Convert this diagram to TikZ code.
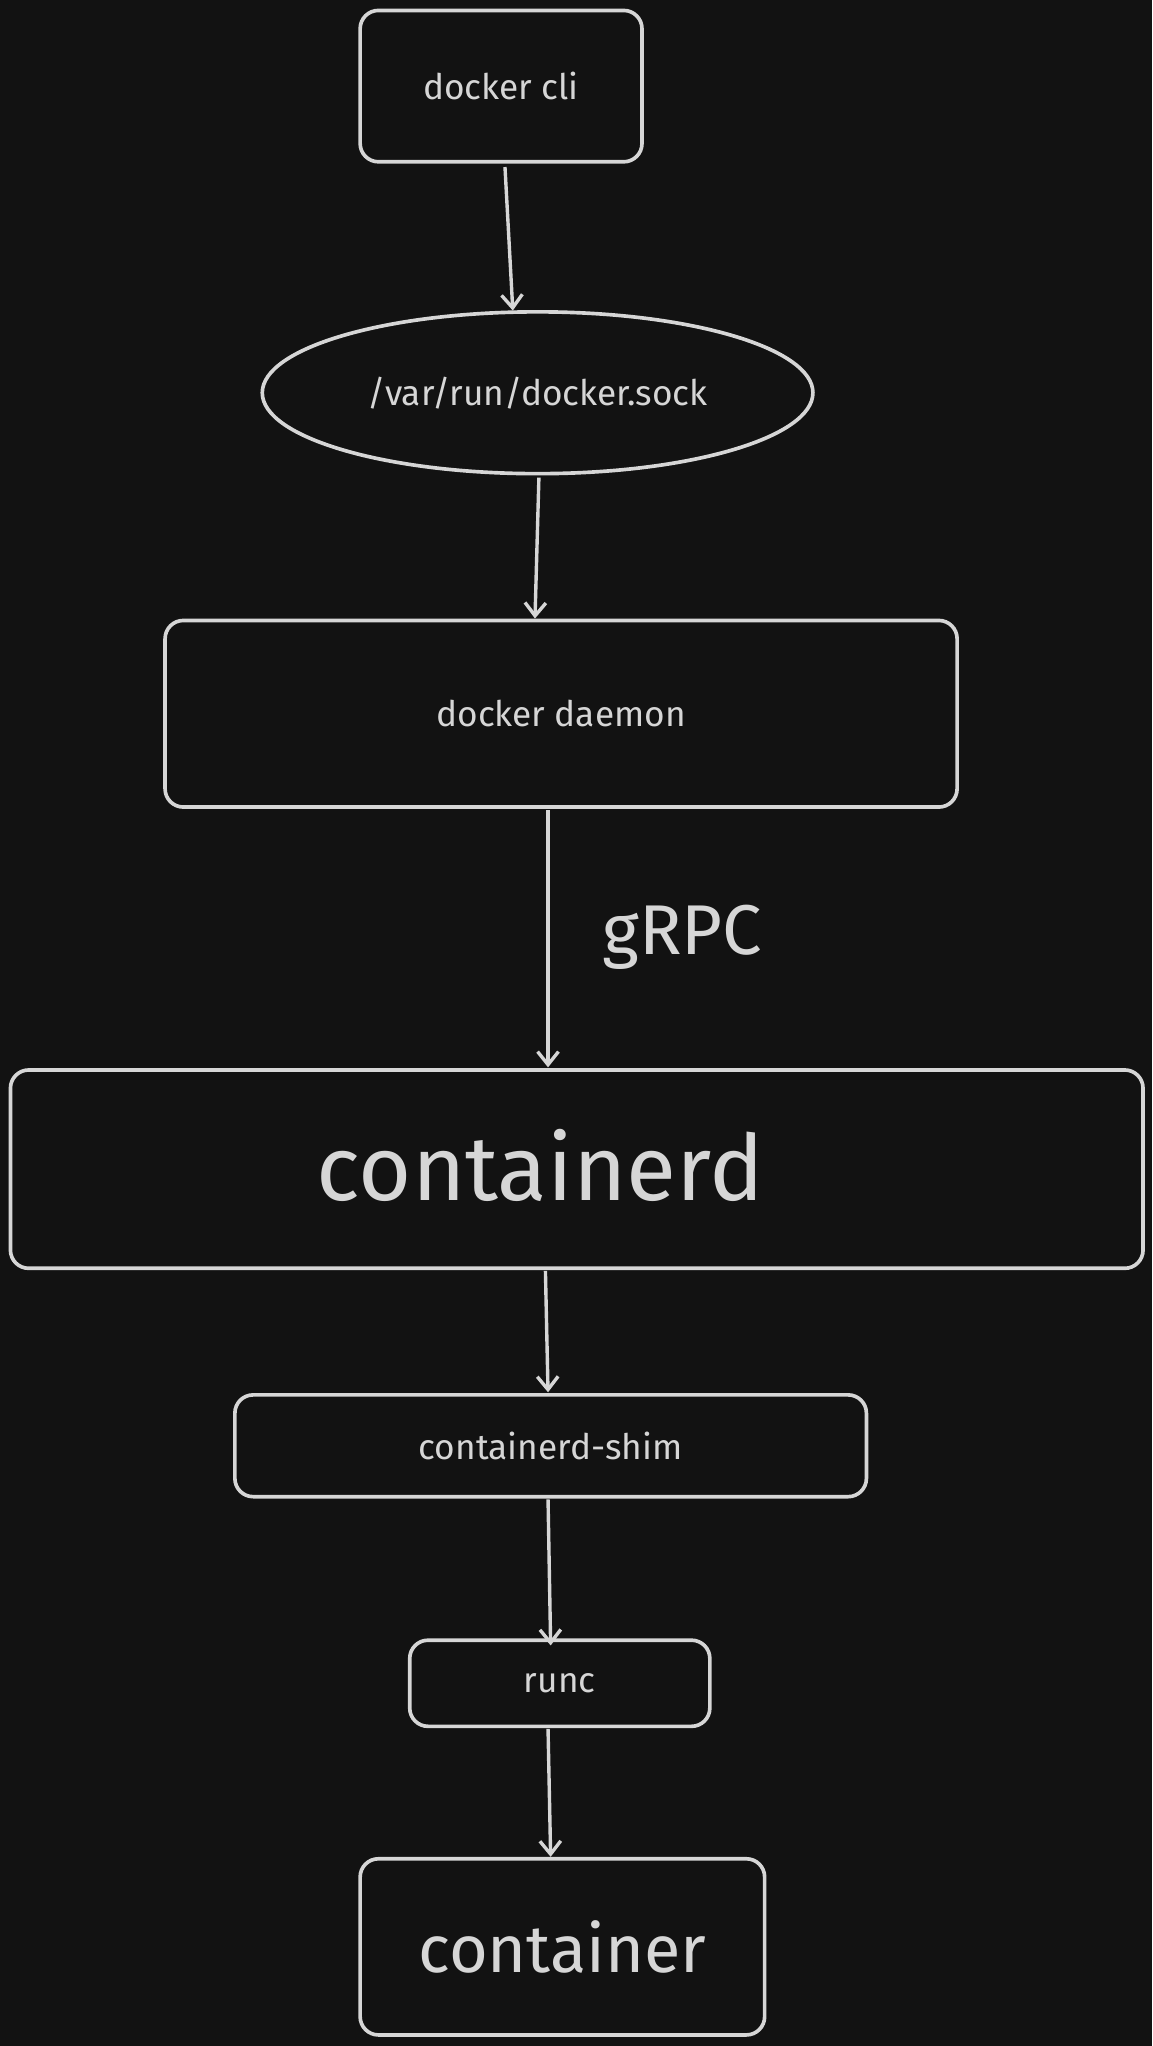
\documentclass[tikz,border=0pt]{standalone}
\usepackage{fontspec}
\setmainfont{Fira Sans}
\usetikzlibrary{shapes.geometric,arrows.meta}
\definecolor{bg}{HTML}{121212}
\definecolor{fg}{HTML}{D6D6D6}
\begin{document}
\begin{tikzpicture}[x=1pt,y=-1pt,
  box/.style={draw=fg,line width=2.8pt,rounded corners=14pt,text=fg,inner sep=0pt},
  arr/.style={draw=fg,line width=2.6pt,-{Straight Barb[length=10pt,width=16pt]}},
  lbl/.style={font=\fontsize{27}{31}\selectfont}]
\fill[bg] (0,0) rectangle (883,1568);
\useasboundingbox (0,0) rectangle (883,1568);
\node[box,minimum width=216pt,minimum height=116pt,lbl] (cli) at (384,66) {docker cli};
\node[box,ellipse,minimum width=422pt,minimum height=124pt,lbl] (sock) at (412,301) {/var/run/docker.sock};
\node[box,minimum width=607pt,minimum height=143pt,lbl] (daemon) at (430,547) {docker daemon};
\node[text=fg,font=\fontsize{54}{60}\selectfont] (grpc) at (523,718) {gRPC};
\node[box,minimum width=868pt,minimum height=152pt] (cd) at (442,896) {};
\node[text=fg,font=\fontsize{70}{78}\selectfont] (cdt) at (414,893) {containerd};
\node[box,minimum width=484pt,minimum height=78pt,lbl] (shim) at (422,1108) {containerd-shim};
\node[box,minimum width=230pt,minimum height=66pt,lbl] (runc) at (429,1290) {runc};
\node[box,minimum width=310pt,minimum height=135pt,font=\fontsize{51}{58}\selectfont] (ctr) at (431,1492) {container};
\coordinate (a1) at (387,128); \coordinate (b1) at (393,238);
\coordinate (a2) at (413,366); \coordinate (b2) at (410,474);
\coordinate (a3) at (420,621); \coordinate (b3) at (420,818);
\coordinate (a4) at (418,974); \coordinate (b4) at (420,1067);
\coordinate (a5) at (420,1149); \coordinate (b5) at (422,1261);
\coordinate (a6) at (420,1325); \coordinate (b6) at (422,1423);
\draw[arr] (a1) -- (b1);
\draw[arr] (a2) -- (b2);
\draw[arr] (a3) -- (b3);
\draw[arr] (a4) -- (b4);
\draw[arr] (a5) -- (b5);
\draw[arr] (a6) -- (b6);
\end{tikzpicture}
\end{document}
